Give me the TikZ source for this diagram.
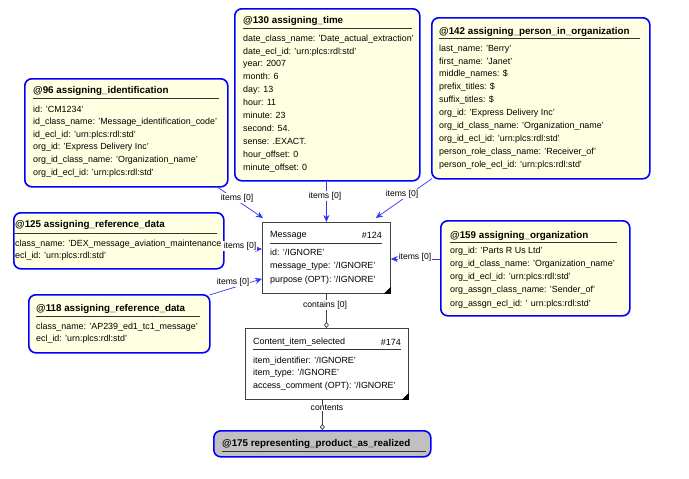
\documentclass[tikz,border=0pt]{standalone}
\usepackage{fontspec}
\setmainfont{Liberation Sans}
\usetikzlibrary{calc,arrows.meta}
\definecolor{ybg}{RGB}{255,255,225}
\definecolor{bblue}{RGB}{0,0,255}
\definecolor{lblue}{RGB}{50,50,255}
\definecolor{gbg}{RGB}{192,192,192}
\tikzset{
  ybox/.style={draw=bblue, line width=1.6pt, rounded corners=7pt, fill=ybg, inner sep=0pt, anchor=north west},
  wbox/.style={draw=black!75, line width=0.8pt, fill=white, inner sep=0pt, anchor=north west},
  gbox/.style={draw=bblue, line width=1.6pt, rounded corners=7pt, fill=gbg, inner sep=0pt, anchor=north west},
  ttl/.style={font=\fontsize{9.8}{11}\selectfont\bfseries, anchor=west, inner sep=0pt},
  wttl/.style={font=\fontsize{9}{11}\selectfont, inner sep=0pt},
  body/.style={font=\fontsize{8.9}{12.9}\selectfont, anchor=north west, align=left, inner sep=0pt},
  uline/.style={draw=black!80, line width=0.9pt},
  lbl/.style={font=\fontsize{8.6}{10}\selectfont, fill=white, inner sep=0.6pt},
  conn/.style={draw=lblue, line width=0.7pt, -{Stealth[length=7pt,width=6pt]}},
  agg/.style={draw=black!75, line width=0.7pt, -{Diamond[open,length=6pt,width=5pt]}},
  corner/.style={fill=black}
}
\begin{document}
\begin{tikzpicture}[x=1pt,y=-1pt]
\useasboundingbox (0,0) rectangle (689,479);

% ---------- boxes ----------
\node[ybox, minimum width=185pt, minimum height=172pt] (b130) at (234,8) {};
\node[ybox, minimum width=218pt, minimum height=161pt] (b142) at (431,17) {};
\node[ybox, minimum width=203pt, minimum height=108pt] (b96) at (24,78) {};
\node[ybox, minimum width=210pt, minimum height=56pt] (b125) at (13,212) {};
\node[ybox, minimum width=181pt, minimum height=58pt] (b118) at (28,294) {};
\node[ybox, minimum width=189pt, minimum height=95pt] (b159) at (440,220) {};
\node[wbox, minimum width=128pt, minimum height=71pt] (msg) at (262,222) {};
\node[wbox, minimum width=163pt, minimum height=71pt] (cis) at (245,328) {};
\node[gbox, minimum width=217pt, minimum height=26pt] (b175) at (213,430) {};

% ---------- @130 ----------
\node[ttl] (t130) at (243,21) {@130 assigning\_time};
\draw[uline] (243,28) -- (412,28);
\node[body] (x130) at (243,34.5) {date\_class\_name: 'Date\_actual\_extraction'\\
date\_ecl\_id: 'urn:plcs:rdl:std'\\
year: 2007\\
month: 6\\
day: 13\\
hour: 11\\
minute: 23\\
second: 54.\\
sense: .EXACT.\\
hour\_offset: 0\\
minute\_offset: 0};

% ---------- @142 ----------
\node[ttl] (t142) at (439,32) {@142 assigning\_person\_in\_organization};
\draw[uline] (439,38) -- (640,38);
\node[body] (x142) at (439,44.5) {last\_name: 'Berry'\\
first\_name: 'Janet'\\
middle\_names: \$\\
prefix\_titles: \$\\
suffix\_titles: \$\\
org\_id: 'Express Delivery Inc'\\
org\_id\_class\_name: 'Organization\_name'\\
org\_id\_ecl\_id: 'urn:plcs:rdl:std'\\
person\_role\_class\_name: 'Receiver\_of'\\
person\_role\_ecl\_id: 'urn:plcs:rdl:std'};

% ---------- @96 ----------
\node[ttl] (t96) at (33,91) {@96 assigning\_identification};
\draw[uline] (33,98) -- (219,98);
\node[body, font=\fontsize{8.9}{12.6}\selectfont] (x96) at (33,105.5) {id: 'CM1234'\\
id\_class\_name: 'Message\_identification\_code'\\
id\_ecl\_id: 'urn:plcs:rdl:std'\\
org\_id: 'Express Delivery Inc'\\
org\_id\_class\_name: 'Organization\_name'\\
org\_id\_ecl\_id: 'urn:plcs:rdl:std'};

% ---------- @125 ----------
\node[ttl] (t125) at (15,225) {@125 assigning\_reference\_data};
\draw[uline] (15,233) -- (217,233);
\node[body, font=\fontsize{8.9}{12}\selectfont] (x125) at (15,239.5) {class\_name: 'DEX\_message\_aviation\_maintenance\\
ecl\_id: 'urn:plcs:rdl:std'};

% ---------- @118 ----------
\node[ttl] (t118) at (36,309) {@118 assigning\_reference\_data};
\draw[uline] (36,316) -- (200,316);
\node[body, font=\fontsize{8.9}{12}\selectfont] (x118) at (36,322.5) {class\_name: 'AP239\_ed1\_tc1\_message'\\
ecl\_id: 'urn:plcs:rdl:std'};

% ---------- @159 ----------
\node[ttl] (t159) at (450,236) {@159 assigning\_organization};
\draw[uline] (450,242) -- (617,242);
\node[body, font=\fontsize{8.9}{13.25}\selectfont] (x159) at (450,246.5) {org\_id: 'Parts R Us Ltd'\\
org\_id\_class\_name: 'Organization\_name'\\
org\_id\_ecl\_id: 'urn:plcs:rdl:std'\\
org\_assgn\_class\_name: 'Sender\_of'\\
org\_assgn\_ecl\_id: ' urn:plcs:rdl:std'};

% ---------- Message ----------
\node[wttl, anchor=west] (tmsg) at (270,235) {Message};
\node[wttl, anchor=east] (nmsg) at (382,235) {\#124};
\draw[uline] (270,243) -- (382,243);
\node[body, font=\fontsize{8.9}{13.5}\selectfont] (xmsg) at (270,248.5) {id: '/IGNORE'\\
message\_type: '/IGNORE'\\
purpose (OPT): '/IGNORE'};
\fill[corner] (msg.south east) -- ++(-7,0) -- ++(7,-7) -- cycle;

% ---------- Content_item_selected ----------
\node[wttl, anchor=west] (tcis) at (253,342) {Content\_item\_selected};
\node[wttl, anchor=east] (ncis) at (401,342) {\#174};
\draw[uline] (253,349) -- (401,349);
\node[body, font=\fontsize{8.9}{12.5}\selectfont] (xcis) at (253,356.5) {item\_identifier: '/IGNORE'\\
item\_type: '/IGNORE'\\
access\_comment (OPT): '/IGNORE'};
\fill[corner] (cis.south east) -- ++(-7,0) -- ++(7,-7) -- cycle;

% ---------- @175 ----------
\node[ttl] (t175) at (222,444) {@175 representing\_product\_as\_realized};
\draw[uline] (222,451) -- (426,451);

% ---------- connectors ----------
\coordinate (c125) at (0,249);
\coordinate (c159) at (0,259);
\draw[conn] (msg.north |- b130.south) -- (msg.north);
\draw[conn] ($(b142.south west)+(1,-1)$) -- ($(msg.north east)+(-15,-4)$);
\draw[conn] ($(b96.south east)+(-12,-1)$) -- ($(msg.north west)+(1,-4)$);
\draw[conn] (b125.east |- c125) -- (msg.west |- c125);
\draw[conn] ($(b118.north east)+(-1,1)$) -- ($(msg.south west)+(0,-15)$);
\draw[conn] (b159.west |- c159) -- (msg.east |- c159);
\draw[agg] (msg.south) -- (msg.south |- cis.north);
\draw[agg] (cis.south -| b175.north) -- (b175.north);

% ---------- labels ----------
\node[lbl] (l130) at (325,196) {items [0]};
\node[lbl] (l142) at (402,194) {items [0]};
\node[lbl] (l96) at (237,198) {items [0]};
\node[lbl] (l125) at (240,246) {items [0]};
\node[lbl] (l118) at (233,282) {items [0]};
\node[lbl] (l159) at (415,257) {items [0]};
\node[lbl] (lcon) at (325,305) {contains [0]};
\node[lbl] (lcts) at (327,408) {contents};
\end{tikzpicture}
\end{document}
